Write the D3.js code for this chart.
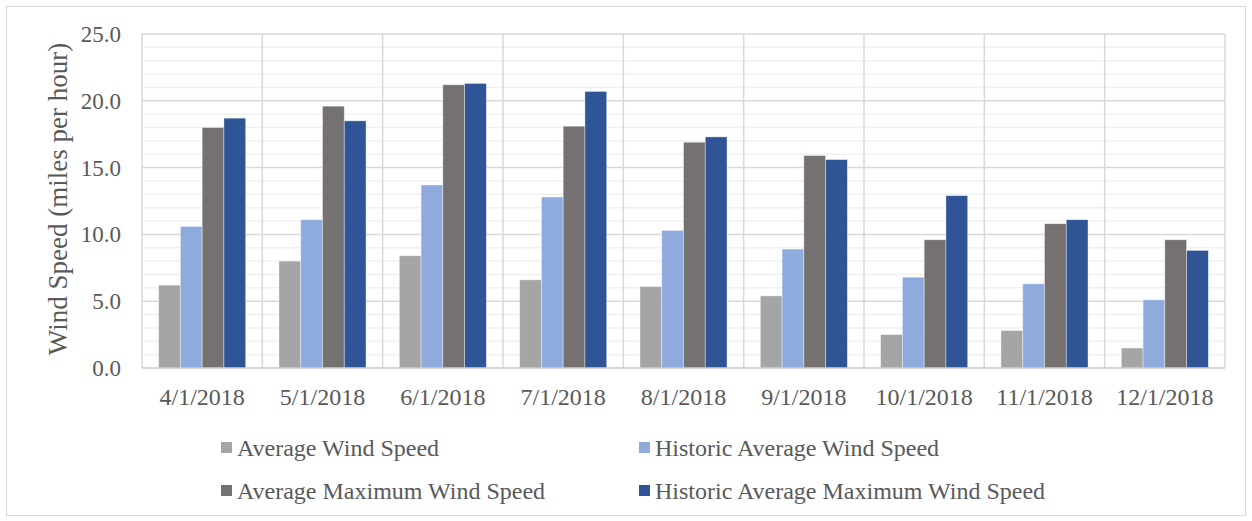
<!DOCTYPE html>
<html lang="en">
<head>
<meta charset="UTF-8">
<script src="https://cdn.jsdelivr.net/npm/d3@7"></script>
<style>
    body { margin: 0; background: white; }
    svg text { font-family: "Liberation Serif", "Times New Roman", serif; fill: #595959; }
</style>
</head>
<body>
<div id="chart"></div>
<script>
    // ---------------- data ----------------
    const dates = ["4/1/2018", "5/1/2018", "6/1/2018", "7/1/2018", "8/1/2018", "9/1/2018", "10/1/2018", "11/1/2018", "12/1/2018"];
    const seriesNames = ["Average Wind Speed", "Historic Average Wind Speed", "Average Maximum Wind Speed", "Historic Average Maximum Wind Speed"];
    const avgWind = [6.2, 8.0, 8.4, 6.6, 6.1, 5.4, 2.5, 2.8, 1.5];
    const histAvgWind = [10.6, 11.1, 13.7, 12.8, 10.3, 8.9, 6.8, 6.3, 5.1];
    const avgMaxWind = [18.0, 19.6, 21.2, 18.1, 16.9, 15.9, 9.6, 10.8, 9.6];
    const histAvgMaxWind = [18.7, 18.5, 21.3, 20.7, 17.3, 15.6, 12.9, 11.1, 8.8];
    const yTicks = [0, 5, 10, 15, 20, 25];
    const colors = ["#a5a5a5", "#8faadc", "#767171", "#2f5597"];

    const allSeries = [avgWind, histAvgWind, avgMaxWind, histAvgMaxWind];

    const width = 1252, height = 521;
    const margin = { left: 142, right: 27, top: 34, bottom: 153 };

    const svg = d3.select("#chart").append("svg")
        .attr("width", width)
        .attr("height", height);

    // outer chart border
    svg.append("rect")
        .attr("x", 6.5).attr("y", 6.5)
        .attr("width", width - 13).attr("height", height - 12)
        .attr("fill", "white").attr("stroke", "#d9d9d9");

    const x = d3.scaleBand()
        .domain(dates)
        .range([margin.left, width - margin.right])
        .paddingInner(0).paddingOuter(0);

    const xInner = d3.scaleBand()
        .domain(d3.range(seriesNames.length))
        .range([0, x.bandwidth()])
        .paddingOuter(0.765).paddingInner(0);

    const y = d3.scaleLinear()
        .domain([0, 25])
        .range([height - margin.bottom, margin.top]);

    // minor gridlines
    svg.append("g").selectAll("line")
        .data(d3.range(0, 25.01, 1).filter(v => v % 5 !== 0))
        .join("line")
        .attr("x1", margin.left).attr("x2", width - margin.right)
        .attr("y1", d => y(d)).attr("y2", d => y(d))
        .attr("stroke", "#f0f0f0").attr("stroke-width", 1.5);

    // major gridlines
    svg.append("g").selectAll("line")
        .data(yTicks.filter(v => v > 0))
        .join("line")
        .attr("x1", margin.left).attr("x2", width - margin.right)
        .attr("y1", d => y(d)).attr("y2", d => y(d))
        .attr("stroke", "#d9d9d9").attr("stroke-width", 1.5);

    // vertical category separators
    svg.append("g").selectAll("line")
        .data(dates.map(d => x(d)).concat([width - margin.right]))
        .join("line")
        .attr("x1", d => d).attr("x2", d => d)
        .attr("y1", y(25)).attr("y2", y(0))
        .attr("stroke", "#d9d9d9").attr("stroke-width", 1.5);

    // bars
    const groups = svg.append("g").selectAll("g")
        .data(dates)
        .join("g")
        .attr("transform", d => `translate(${x(d)},0)`);

    groups.selectAll("rect")
        .data((d, i) => allSeries.map((s, k) => ({ k: k, v: s[i] })))
        .join("rect")
        .attr("x", d => xInner(d.k))
        .attr("width", xInner.bandwidth())
        .attr("y", d => y(d.v))
        .attr("height", d => y(0) - y(d.v))
        .attr("fill", d => colors[d.k])
        .attr("stroke", "#ffffff").attr("stroke-opacity", 0.5).attr("stroke-width", 0.75);

    // x axis line
    svg.append("line")
        .attr("x1", margin.left).attr("x2", width - margin.right)
        .attr("y1", y(0)).attr("y2", y(0))
        .attr("stroke", "#c8c8c8").attr("stroke-width", 1.5);

    // y tick labels
    svg.append("g").selectAll("text")
        .data(yTicks)
        .join("text")
        .attr("x", 121)
        .attr("y", d => y(d))
        .attr("dy", "0.35em")
        .attr("text-anchor", "end")
        .style("font-size", "23px")
        .text(d => d3.format(".1f")(d));

    // x tick labels
    svg.append("g").selectAll("text")
        .data(dates)
        .join("text")
        .attr("x", d => x(d) + x.bandwidth() / 2)
        .attr("y", 405)
        .attr("text-anchor", "middle")
        .style("font-size", "24px")
        .text(d => d);

    // y axis title
    svg.append("text")
        .attr("transform", `translate(67,${(y(0) + y(25)) / 2 - 2}) rotate(-90)`)
        .attr("text-anchor", "middle")
        .style("font-size", "27px")
        .text("Wind Speed (miles per hour)");

    // legend
    const legendPos = [[221, 448], [639, 448], [221, 491], [639, 491]];
    const legend = svg.append("g").selectAll("g")
        .data(seriesNames)
        .join("g")
        .attr("transform", (d, i) => `translate(${legendPos[i][0]},${legendPos[i][1]})`);
    legend.append("rect")
        .attr("x", 0).attr("y", -6)
        .attr("width", 11).attr("height", 11)
        .attr("fill", (d, i) => colors[i]);
    legend.append("text")
        .attr("x", 16).attr("y", 0)
        .attr("dy", "0.35em")
        .style("font-size", "24px")
        .text(d => d);
</script>
</body>
</html>
